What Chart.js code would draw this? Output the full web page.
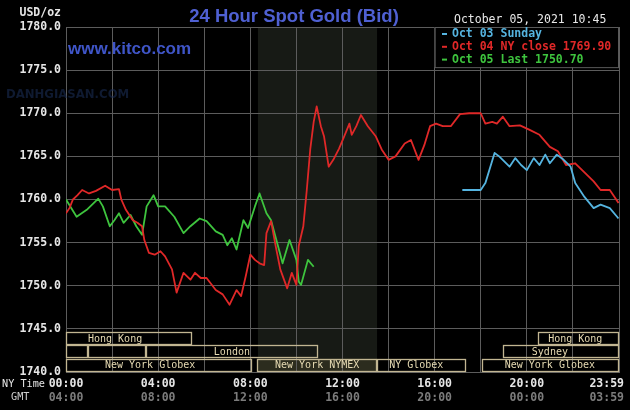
<!DOCTYPE html>
<html>
<head>
<meta charset="utf-8">
<script src="https://cdn.jsdelivr.net/npm/chart.js@4.4.0/dist/chart.umd.min.js"></script>
<style>
  html, body { margin: 0; padding: 0; background: #000; }
  #goldChart { display: block; }
</style>
</head>
<body>
<canvas id="goldChart" width="630" height="410"></canvas>
<script>
// ---------------- DATA ----------------
const yTicks = [1740, 1745, 1750, 1755, 1760, 1765, 1770, 1775, 1780];
const xTickHours = [0, 4, 8, 12, 16, 20, 24];
const nyLabels = ['00:00', '04:00', '08:00', '12:00', '16:00', '20:00', '23:59'];
const gmtLabels = ['04:00', '08:00', '12:00', '16:00', '20:00', '00:00', '03:59'];

// Oct 04 NY close (red)
const redHours = [0, 0.15, 0.3, 0.5, 0.7, 1.0, 1.3, 1.7, 2.0, 2.3, 2.4, 2.6, 2.9, 3.1, 3.3, 3.4, 3.6, 3.85, 4.1, 4.3,
  4.6, 4.8, 5.1, 5.4, 5.6, 5.85, 6.1, 6.5, 6.8, 7.1, 7.4, 7.6, 7.8, 8.0, 8.2, 8.4, 8.6, 8.7, 8.9, 9.1,
  9.3, 9.6, 9.8, 10.0, 10.1, 10.3, 10.45, 10.6, 10.75, 10.88, 11.06, 11.2, 11.4, 11.6, 11.85, 12.07, 12.3, 12.4, 12.6, 12.8,
  13.1, 13.45, 13.7, 14.0, 14.3, 14.7, 14.97, 15.3, 15.55, 15.8, 16.06, 16.35, 16.7, 17.1, 17.5, 18.0, 18.2, 18.5, 18.7, 18.96,
  19.25, 19.7, 20.1, 20.55, 21.0, 21.35, 21.7, 22.1, 22.4, 22.9, 23.2, 23.6, 23.98];
const redValues = [1758.4, 1759.0, 1760.0, 1760.5, 1761.1, 1760.7, 1761.0, 1761.6, 1761.1, 1761.2, 1760.0, 1758.8, 1757.6, 1757.3, 1756.9, 1755.3, 1753.8, 1753.6, 1754.0, 1753.4,
  1751.9, 1749.2, 1751.5, 1750.7, 1751.5, 1750.9, 1750.9, 1749.5, 1749.0, 1747.8, 1749.5, 1748.8, 1751.1, 1753.6, 1753.0, 1752.6, 1752.4, 1756.1, 1757.5, 1754.6,
  1751.9, 1749.7, 1751.5, 1750.1, 1754.6, 1756.9, 1761.1, 1765.8, 1769.0, 1770.8, 1768.5, 1767.3, 1763.8, 1764.6, 1765.9, 1767.3, 1768.8, 1767.5, 1768.5, 1769.8,
  1768.5, 1767.3, 1765.8, 1764.6, 1765.0, 1766.5, 1766.9, 1764.6, 1766.3, 1768.5, 1768.8, 1768.5, 1768.5, 1769.9, 1770.0, 1770.0, 1768.8, 1769.0, 1768.8, 1769.6,
  1768.5, 1768.6, 1768.1, 1767.5, 1766.1, 1765.6, 1764.0, 1764.2, 1763.4, 1762.1, 1761.1, 1761.1, 1759.6];

// Oct 05 last (green)
const greenHours = [0, 0.46, 0.9, 1.4, 1.6, 1.9, 2.1, 2.3, 2.5, 2.8, 3.05, 3.3, 3.5, 3.8, 4.0, 4.3, 4.7, 5.1, 5.4, 5.8,
  6.1, 6.5, 6.8, 7.0, 7.2, 7.4, 7.7, 7.9, 8.2, 8.4, 8.7, 8.9, 9.2, 9.4, 9.7, 10.0, 10.1, 10.2, 10.5, 10.75];
const greenValues = [1760.0, 1758.0, 1758.8, 1760.1, 1759.2, 1756.9, 1757.6, 1758.4, 1757.3, 1758.2, 1756.9, 1755.9, 1759.2, 1760.5, 1759.2, 1759.2, 1758.0, 1756.1, 1756.9, 1757.8,
  1757.5, 1756.3, 1755.9, 1754.7, 1755.5, 1754.2, 1757.6, 1756.7, 1759.2, 1760.7, 1758.4, 1757.6, 1754.6, 1752.6, 1755.3, 1753.0, 1750.5, 1750.1, 1753.0, 1752.2];

// Oct 03 Sunday (blue)
const blueHours = [17.2, 18.0, 18.2, 18.6, 18.8, 19.25, 19.5, 19.75, 20.0, 20.3, 20.55, 20.8, 21.0, 21.3, 21.6, 21.9, 22.1, 22.5, 22.9, 23.2, 23.6, 23.98];
const blueValues = [1761.1, 1761.1, 1761.9, 1765.4, 1765.0, 1763.8, 1764.8, 1764.0, 1763.4, 1764.8, 1764.0, 1765.2, 1764.2, 1765.2, 1764.6, 1763.8, 1761.9, 1760.3, 1759.0, 1759.4, 1759.0, 1757.8];

// market session boxes: row, start hour, end hour, label, label centre hour
const sessionRows = [1, 2, 2, 2, 3, 3, 3, 3, 2, 1];
const sessionStarts = [0, 0, 0.95, 3.47, 0, 8.29, 13.5, 18.06, 18.97, 20.5];
const sessionEnds = [5.47, 0.95, 3.47, 10.94, 8.07, 13.5, 17.36, 24, 24, 24];
const sessionNames = ['Hong Kong', '', '', 'London', 'New York Globex', 'New York NYMEX', 'NY Globex', 'New York Globex', 'Sydney', 'Hong Kong'];
const sessionLabelAt = [2.13, 0, 0, 7.2, 3.65, 10.9, 15.2, 21.0, 21.0, 22.1];

const comexOpen = 8.33;
const comexClose = 13.5;

const legendNames = ['Oct 03 Sunday', 'Oct 04 NY close 1769.90', 'Oct 05 Last 1750.70'];
const legendColors = ['#55b4e0', '#e02828', '#3ec43e'];

// ---------------- HELPERS ----------------
function toPoints(hours, values) {
  return hours.map((h, i) => ({ x: h, y: values[i] }));
}

const MONO = '"DejaVu Sans Mono", "Liberation Mono", monospace';

// ---------------- DECORATION PLUGIN ----------------
const kitcoPlugin = {
  id: 'kitco',
  beforeDraw(chart) {
    const { ctx, chartArea: a, scales: { x, y } } = chart;
    ctx.save();
    ctx.fillStyle = '#000';
    ctx.fillRect(0, 0, chart.width, chart.height);
    // comex hours band
    ctx.fillStyle = '#171a15';
    ctx.fillRect(x.getPixelForValue(comexOpen), a.top, x.getPixelForValue(comexClose) - x.getPixelForValue(comexOpen), a.bottom - a.top);
    // nymex box fill
    const rowTop = y.getPixelForValue(1745) + 3;
    const rowH = (a.bottom - rowTop) / 3;
    ctx.fillStyle = '#2c2c1e';
    ctx.fillRect(x.getPixelForValue(8.29), rowTop + rowH * 2, x.getPixelForValue(13.5) - x.getPixelForValue(8.29), rowH);
    ctx.restore();
  },
  beforeDatasetsDraw(chart) {
    const { ctx, chartArea: a, scales: { x, y } } = chart;
    ctx.save();
    // legend box top-right
    const lx = x.getPixelForValue(16);
    const ly = y.getPixelForValue(1775) - 3;
    ctx.fillStyle = '#000';
    ctx.fillRect(lx, a.top, a.right - lx, ly - a.top);
    ctx.strokeStyle = '#5a5a5a';
    ctx.lineWidth = 1;
    ctx.strokeRect(lx + 0.5, a.top + 0.5, a.right - lx - 1, ly - a.top);

    // session boxes
    const rowTop = y.getPixelForValue(1745) + 3;
    const rowH = (a.bottom - rowTop) / 3;
    ctx.strokeStyle = '#c2b692';
    ctx.lineWidth = 1.3;
    ctx.font = '10px ' + MONO;
    ctx.textAlign = 'center';
    ctx.textBaseline = 'middle';
    sessionRows.forEach((row, i) => {
      const x0 = x.getPixelForValue(sessionStarts[i]);
      const x1 = x.getPixelForValue(sessionEnds[i]);
      const top = rowTop + rowH * (row - 1);
      ctx.strokeRect(Math.round(x0) + 0.5, Math.round(top) + 0.5, Math.round(x1 - x0) - 1, Math.round(rowH) - 1);
      if (sessionNames[i]) {
        ctx.fillStyle = '#e6dab2';
        ctx.fillText(sessionNames[i], x.getPixelForValue(sessionLabelAt[i]), top + rowH / 2 + 0.5);
      }
    });
    ctx.restore();
  },
  afterDraw(chart) {
    const { ctx, chartArea: a, scales: { x, y } } = chart;
    ctx.save();

    // watermark
    ctx.globalAlpha = 0.55;
    ctx.fillStyle = '#1c2f5a';
    ctx.font = 'bold 13px "DejaVu Sans Condensed", "DejaVu Sans", sans-serif';
    ctx.textAlign = 'left';
    ctx.textBaseline = 'middle';
    ctx.fillText('DANHGIASAN.COM', 6, 95);
    ctx.globalAlpha = 1;

    ctx.fillStyle = '#3f55c8';
    ctx.font = 'bold 17px "Liberation Sans", Arial, sans-serif';
    ctx.fillText('www.kitco.com', 68, 49);

    // title
    ctx.fillStyle = '#4f60d2';
    ctx.font = 'bold 18.5px "Liberation Sans", Arial, sans-serif';
    ctx.textAlign = 'center';
    ctx.textBaseline = 'alphabetic';
    ctx.fillText('24 Hour Spot Gold (Bid)', 294, 22);

    // date stamp
    ctx.fillStyle = '#e8e8e8';
    ctx.font = '11.5px ' + MONO;
    ctx.textAlign = 'left';
    ctx.fillText('October 05, 2021 10:45', 454, 23);

    // legend text
    ctx.font = 'bold 11.5px ' + MONO;
    ctx.textBaseline = 'middle';
    legendNames.forEach((name, i) => {
      const ty = 34 + i * 12.8;
      ctx.fillStyle = legendColors[i];
      ctx.fillRect(442, ty - 1, 5, 2);
      ctx.fillText(name, 452, ty);
    });

    // y tick labels
    ctx.fillStyle = '#e6e6e6';
    ctx.font = 'bold 11.5px ' + MONO;
    ctx.textAlign = 'right';
    ctx.textBaseline = 'middle';
    ctx.fillText('USD/oz', 61, 13);
    yTicks.forEach(v => {
      ctx.fillText(v.toFixed(1), 61, y.getPixelForValue(v));
    });

    // x tick labels
    ctx.textAlign = 'left';
    ctx.font = '10.2px ' + MONO;
    ctx.fillStyle = '#e6e6e6';
    ctx.fillText('NY Time', 2, 384);
    ctx.fillStyle = '#cfcfcf';
    ctx.fillText('GMT', 11, 397);
    ctx.font = 'bold 11.5px ' + MONO;
    xTickHours.forEach((h, i) => {
      const last = i === xTickHours.length - 1;
      const px = last ? x.getPixelForValue(h) + 5 : x.getPixelForValue(h);
      ctx.textAlign = last ? 'right' : 'center';
      ctx.fillStyle = '#e6e6e6';
      ctx.fillText(nyLabels[i], px, 384);
      ctx.fillStyle = '#7c7c7c';
      ctx.fillText(gmtLabels[i], px, 398);
    });
    ctx.restore();
  }
};

// ---------------- CHART ----------------
const goldChart = new Chart(document.getElementById('goldChart'), {
  type: 'line',
  data: {
    datasets: [
      {
        label: 'Oct 03 Sunday',
        data: toPoints(blueHours, blueValues),
        borderColor: legendColors[0],
        borderWidth: 1.8
      },
      {
        label: 'Oct 04 NY close',
        data: toPoints(redHours, redValues),
        borderColor: legendColors[1],
        borderWidth: 1.8
      },
      {
        label: 'Oct 05 Last',
        data: toPoints(greenHours, greenValues),
        borderColor: legendColors[2],
        borderWidth: 1.8
      }
    ]
  },
  options: {
    responsive: false,
    animation: false,
    devicePixelRatio: 1,
    parsing: false,
    elements: {
      point: { radius: 0 },
      line: { tension: 0, borderJoinStyle: 'round' }
    },
    layout: { padding: { left: 66, top: 27, right: 11, bottom: 38 } },
    plugins: {
      legend: { display: false },
      tooltip: { enabled: false }
    },
    scales: {
      x: {
        type: 'linear',
        min: 0,
        max: 24,
        ticks: { display: false, stepSize: 2 },
        grid: { color: '#5c5c5c', lineWidth: 1, drawTicks: false },
        border: { color: '#5c5c5c' }
      },
      y: {
        type: 'linear',
        min: 1740,
        max: 1780,
        ticks: { display: false, stepSize: 5 },
        grid: { color: '#5c5c5c', lineWidth: 1, drawTicks: false },
        border: { color: '#5c5c5c' }
      }
    }
  },
  plugins: [kitcoPlugin]
});
</script>
</body>
</html>
